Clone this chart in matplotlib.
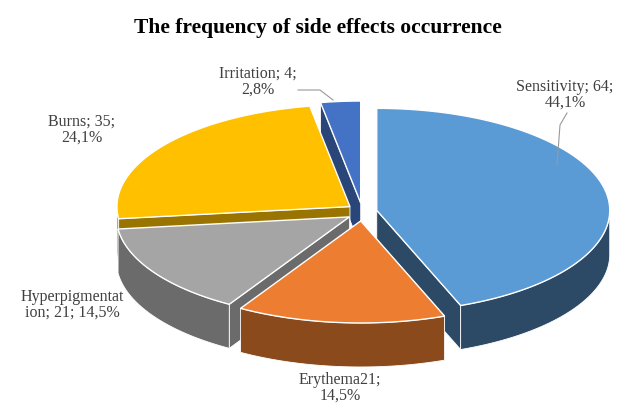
import numpy as np
import matplotlib
matplotlib.use("Agg")
import matplotlib.pyplot as plt
from matplotlib.patches import Polygon

categories = ["Sensitivity", "Erythema", "Hyperpigmentation", "Burns", "Irritation"]
values = [64, 21, 21, 35, 4]
labels = ["Sensitivity; 64;\n44,1%", "Erythema21;\n14,5%", "Hyperpigmentat\nion; 21; 14,5%",
          "Burns; 35;\n24,1%", "Irritation; 4;\n2,8%"]
top_colors = ["#5B9BD5", "#ED7D31", "#A5A5A5", "#FFC000", "#4472C4"]
side_colors = ["#2C4A66", "#8A4A1C", "#6B6B6B", "#9A7400", "#2A4678"]

plt.rcParams["font.family"] = "Liberation Serif"
fig = plt.figure(figsize=(6.3, 4.17), dpi=100)
ax = fig.add_axes([0, 0, 1, 1])
ax.set_xlim(0, 630); ax.set_ylim(417, 0); ax.axis("off")

cx, cy, rx, ry, depth, expl = 362, 212, 233, 102, 44, 15
total = sum(values)

def pt(c, t):
    return np.array([c[0] + rx * np.cos(t), c[1] - ry * np.sin(t)])

slices = []
a = np.pi / 2
for v in values:
    b = a - 2 * np.pi * v / total
    m = (a + b) / 2
    c = (cx + expl * np.cos(m), cy - expl * 0.6 * np.sin(m))
    slices.append((b, a, m, c))
    a = b

sides = []
for i, (t1, t2, m, c) in enumerate(slices):
    ts = np.linspace(t1, t2, 120)
    front = ts[np.sin(ts) < 0.02]
    if len(front) > 1:
        top = np.array([pt(c, t) for t in front])
        bot = top + [0, depth]
        sides.append((-np.sin(m) + 5, Polygon(np.vstack([top, bot[::-1]]), closed=True,
                                              fc=side_colors[i], ec="white", lw=0.6)))
    for t in (t1, t2):
        p = pt(c, t)
        quad = [c, p, p + [0, depth], (c[0], c[1] + depth)]
        sides.append((-np.sin(t), Polygon(quad, closed=True, fc=side_colors[i], ec="white", lw=0.6)))
for _, p in sorted(sides, key=lambda s: s[0]):
    ax.add_patch(p)

for i, (t1, t2, m, c) in enumerate(slices):
    ts = np.linspace(t1, t2, 120)
    poly = [c] + [pt(c, t) for t in ts]
    ax.add_patch(Polygon(poly, closed=True, fc=top_colors[i], ec="white", lw=1))

pos = [(565, 95, "center"), (340, 388, "center"), (72, 305, "center"), (82, 130, "center"), (258, 82, "center")]
for lab, (x, y, ha) in zip(labels, pos):
    ax.text(x, y, lab, ha=ha, va="center", fontsize=11.5, color="#404040", linespacing=1.0)
ax.plot([567, 560, 557], [113, 125, 165], color="#999999", lw=0.8)
ax.plot([298, 320, 333], [90, 90, 100], color="#999999", lw=0.8)

ax.text(318, 28, "The frequency of side effects occurrence", ha="center", va="center",
        fontsize=15.5, fontweight="bold", color="black")
fig.savefig("out.png", dpi=100)
